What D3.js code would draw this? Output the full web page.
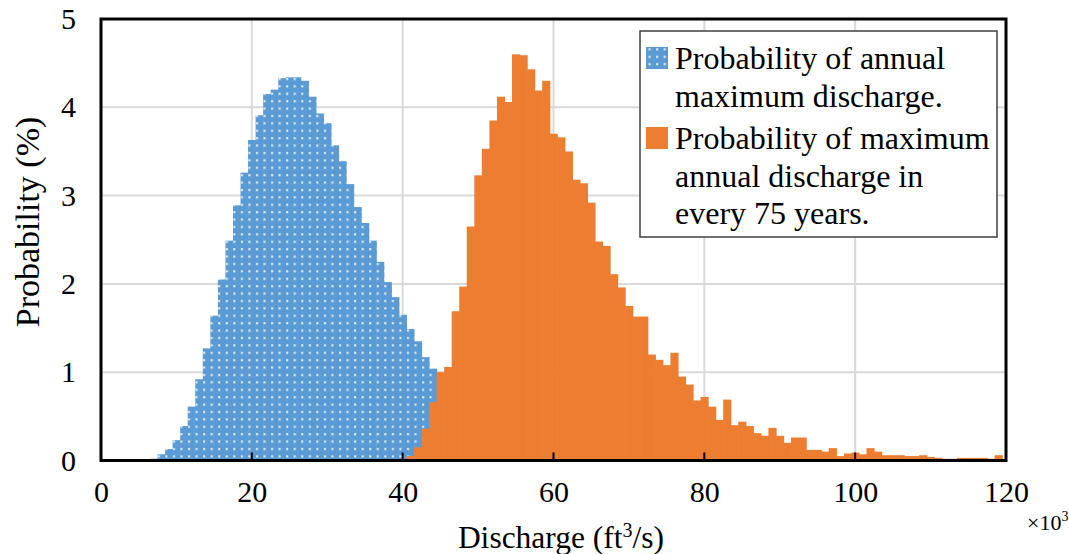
<!DOCTYPE html>
<html>
<head>
<meta charset="utf-8">
<script src="https://cdn.jsdelivr.net/npm/d3@7"></script>
<style>
  html, body { margin: 0; padding: 0; background: #fff; }
  svg { display: block; font-family: "Liberation Serif", "Times New Roman", serif; }
</style>
</head>
<body>
<svg id="chart" width="1069" height="554"></svg>
<script>
// ---- data (bin centres in 10^3 ft^3/s, bin width 1) ----
const blueBins = [7,8,9,10,11,12,13,14,15,16,17,18,19,20,21,22,23,24,25,26,27,28,29,30,31,32,33,34,35,36,37,38,39,40,41,42,43,44];
const blueValues = [0.02,0.07,0.13,0.23,0.39,0.61,0.92,1.27,1.64,2.05,2.49,2.89,3.26,3.63,3.91,4.15,4.20,4.33,4.34,4.34,4.30,4.12,3.93,3.82,3.57,3.39,3.13,2.87,2.69,2.49,2.25,2.02,1.85,1.65,1.49,1.35,1.17,1.04];

const orangeBins = [40,41,42,43,44,45,46,47,48,49,50,51,52,53,54,55,56,57,58,59,60,61,62,63,64,65,66,67,68,69,70,71,72,73,74,75,76,77,78,79,80,81,82,83,84,85,86,87,88,89,90,91,92,93,94,95,96,97,98,99,100,101,102,103,104,105,106,107,108,109,110,111,112,113,114,115,116,117,118,119];
const orangeValues = [0.02,0.05,0.15,0.36,0.66,1.00,1.06,1.69,1.97,2.65,3.23,3.53,3.85,4.12,4.06,4.60,4.59,4.43,4.19,4.30,3.70,3.66,3.50,3.18,3.14,2.92,2.48,2.43,2.11,1.96,1.75,1.63,1.63,1.20,1.14,1.08,1.22,0.95,0.86,0.68,0.72,0.61,0.46,0.69,0.40,0.44,0.39,0.31,0.28,0.37,0.28,0.20,0.26,0.26,0.12,0.12,0.10,0.14,0.05,0.08,0.09,0.07,0.14,0.10,0.06,0.06,0.06,0.05,0.05,0.06,0.04,0.03,0.02,0.02,0.03,0.03,0.03,0.03,0.02,0.06];

const xTicks = [0,20,40,60,80,100,120];
const yTicks = [0,1,2,3,4,5];
const legendLabels = [
  ["Probability of annual", "maximum discharge."],
  ["Probability of maximum", "annual discharge in", "every 75 years."]
];
const binWidth = 1;

// ---- layout ----
const svg = d3.select("#chart");
const pLeft = 101, pRight = 1006, pTop = 19, pBottom = 460.5;
const x = d3.scaleLinear().domain([0, 120]).range([pLeft, pRight]);
const y = d3.scaleLinear().domain([0, 5]).range([pBottom, pTop]);
const BLUE = "#5b9bd5", ORANGE = "#ed7d31";

// dotted pattern for the blue series
const defs = svg.append("defs");
const pat = defs.append("pattern").attr("id", "dots")
  .attr("patternUnits", "userSpaceOnUse")
  .attr("width", 7.55).attr("height", 7.4)
  .attr("x", pLeft + 2).attr("y", 2);
pat.append("rect").attr("width", 7.55).attr("height", 7.4).attr("fill", BLUE);
pat.append("rect").attr("x", 2).attr("y", 2).attr("width", 2).attr("height", 2)
  .attr("fill", "#ffffff").attr("opacity", 0.9);

// gridlines
svg.append("g").selectAll("line").data(yTicks.slice(1, -1)).join("line")
  .attr("x1", pLeft).attr("x2", pRight)
  .attr("y1", d => y(d)).attr("y2", d => y(d))
  .attr("stroke", "#d9d9d9").attr("stroke-width", 2);
svg.append("g").selectAll("line").data(xTicks.slice(1, -1)).join("line")
  .attr("y1", pTop).attr("y2", pBottom)
  .attr("x1", d => x(d)).attr("x2", d => x(d))
  .attr("stroke", "#d9d9d9").attr("stroke-width", 2);

// bars
const bw = x(binWidth) - x(0);
svg.append("g").selectAll("rect").data(blueBins.map((b, i) => [b, blueValues[i]])).join("rect")
  .attr("x", d => x(d[0] - binWidth / 2))
  .attr("width", bw + 0.6)
  .attr("y", d => y(d[1]))
  .attr("height", d => y(0) - y(d[1]))
  .attr("fill", "url(#dots)");
svg.append("g").selectAll("rect").data(orangeBins.map((b, i) => [b, orangeValues[i]])).join("rect")
  .attr("x", d => x(d[0] - binWidth / 2))
  .attr("width", bw + 0.6)
  .attr("y", d => y(d[1]))
  .attr("height", d => y(0) - y(d[1]))
  .attr("fill", ORANGE);

// bottom inner tick marks
svg.append("g").selectAll("line").data(xTicks.slice(1, -1)).join("line")
  .attr("x1", d => x(d)).attr("x2", d => x(d))
  .attr("y1", pBottom).attr("y2", pBottom - 8)
  .attr("stroke", "#000").attr("stroke-width", 2);

// frame
svg.append("rect").attr("x", pLeft).attr("y", pTop)
  .attr("width", pRight - pLeft).attr("height", pBottom - pTop)
  .attr("fill", "none").attr("stroke", "#000").attr("stroke-width", 3);

// axes (labels)
const xAxis = svg.append("g").attr("transform", `translate(0,${pBottom})`)
  .call(d3.axisBottom(x).tickValues(xTicks).tickSize(0).tickPadding(20).tickFormat(d3.format("d")));
xAxis.select(".domain").remove();
xAxis.selectAll("text").attr("font-size", 30).attr("fill", "#000")
  .attr("font-family", "Liberation Serif, serif");

const yAxis = svg.append("g").attr("transform", `translate(${pLeft},0)`)
  .call(d3.axisLeft(y).tickValues(yTicks).tickSize(0).tickPadding(25).tickFormat(d3.format("d")));
yAxis.select(".domain").remove();
yAxis.selectAll("text").attr("font-size", 30).attr("fill", "#000")
  .attr("font-family", "Liberation Serif, serif");

// axis titles
const xt = svg.append("text").attr("x", 561).attr("y", 548)
  .attr("text-anchor", "middle").attr("font-size", 31.5).attr("fill", "#000");
xt.append("tspan").text("Discharge (ft");
xt.append("tspan").attr("font-size", 20).attr("dy", -11).text("3");
xt.append("tspan").attr("dy", 11).text("/s)");

const mult = svg.append("text").attr("x", 1027).attr("y", 530)
  .attr("font-size", 22).attr("fill", "#000");
mult.append("tspan").text("×10");
mult.append("tspan").attr("font-size", 14).attr("dy", -9).text("3");

svg.append("text").attr("transform", "translate(39,222) rotate(-90)")
  .attr("text-anchor", "middle").attr("font-size", 34).attr("fill", "#000")
  .text("Probability (%)");

// legend
const lg = svg.append("g");
lg.append("rect").attr("x", 640).attr("y", 31).attr("width", 357).attr("height", 206)
  .attr("fill", "#fff").attr("stroke", "#404040").attr("stroke-width", 1.5);
const markerY = [47, 127];
const fills = ["url(#dots)", ORANGE];
const lineStart = [69, 149];
legendLabels.forEach((lines, i) => {
  lg.append("rect").attr("x", 646).attr("y", markerY[i]).attr("width", 22).attr("height", 22)
    .attr("fill", fills[i]);
  lg.selectAll(null).data(lines).join("text")
    .attr("x", 675).attr("y", (d, j) => lineStart[i] + j * 37.5)
    .attr("font-size", 32).attr("fill", "#000").text(d => d);
});
</script>
</body>
</html>
